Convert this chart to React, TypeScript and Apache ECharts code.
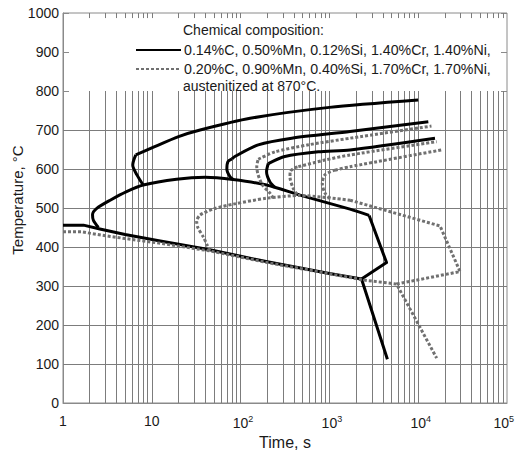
import React, { useEffect, useRef } from "react";
import * as echarts from "echarts";

const FONT = '"Liberation Sans", Arial, Helvetica, sans-serif';
const TEXT = "#1a1a1a";
const FRAME = "#8a8a8a";
const GRID = "#7c7c7c";

const STEEL_A = "0.14%C, 0.50%Mn, 0.12%Si, 1.40%Cr, 1.40%Ni,";
const STEEL_B = "0.20%C, 0.90%Mn, 0.40%Si, 1.70%Cr, 1.70%Ni,";

// [time, s ; temperature, °C]
// Steel A (solid)
const aMartensite = [[1, 456], [1.7, 456], [2.6, 446], [5, 432], [12, 416], [45, 393], [200, 362], [1000, 332], [2300, 318], [4500, 112]];
const aBainite = [[2.5, 450], [2.2, 468], [2.15, 483], [2.4, 499], [3.4, 520], [5.2, 542], [8, 559], [19, 574], [40, 579], [82, 573], [196, 559], [466, 533], [1706, 497], [2800, 481], [4400, 360], [2300, 318]];
const aFerrite1 = [[8, 559], [6.8, 585], [6.1, 610], [6.6, 636], [10, 654], [20, 683], [35, 700], [128, 730], [1000, 758], [10000, 777]];
const aFerrite2 = [[83, 573], [76, 580], [70, 600], [72, 619], [80, 626], [86, 632], [158, 662], [377, 679], [1706, 696], [13000, 721]];
const aFerrite3 = [[244, 553], [214, 567], [196, 593], [205, 614], [315, 632], [750, 644], [1706, 649], [15460, 679]];

// Steel B (dotted)
const bMartensite = [[1, 439], [1.6, 439], [3.4, 427], [12, 410], [45, 390], [200, 360], [1706, 322], [2300, 316], [5700, 305], [16150, 115]];
const bBainite = [[45, 390], [42, 405], [38, 426], [33, 450], [32, 466], [35, 482], [50, 498], [83, 510], [196, 525], [466, 532], [1706, 520], [17600, 454], [29600, 337], [5700, 305]];
const bFerrite1 = [[233, 525], [214, 538], [172, 563], [152, 606], [158, 625], [244, 644], [580, 662], [1706, 679], [14100, 710]];
const bFerrite2 = [[430, 535], [392, 550], [360, 580], [362, 593], [400, 602], [447, 606], [892, 623], [1706, 636], [16150, 670]];
const bFerrite3 = [[1016, 525], [892, 538], [832, 563], [892, 585], [1156, 597], [1706, 606], [18400, 649]];

const decadeStarts = [1, 10, 100, 1000, 10000];
const mantissas = [1, 2, 3, 4, 5, 6, 7, 8, 9];
const tempLines = [100, 200, 300, 400, 500, 600, 700];
const gridTop = 800;
const tMin = 1;
const tMax = 100000;
const tempMax = 1000;
const topTickLen = 13;

const PLOT = { left: 63, top: 13, right: 8, bottom: 48 };
const W = 515;
const H = 451;
const X_LABEL_MARGIN = 11;

const SUP_RICH = {
  p: { width: 5 },
  s: { fontSize: 9, padding: [0, 0, 9, 0], color: TEXT, fontFamily: FONT },
};

export default function App() {
  const ref = useRef<HTMLDivElement>(null);

  useEffect(() => {
    if (!ref.current) return;
    const chart = echarts.init(ref.current, null, { renderer: "svg" });

    const logValues: number[] = [];
    decadeStarts.forEach((d) => mantissas.forEach((m) => {
      const v = m * d;
      if (v > tMin && v < tMax) logValues.push(v);
    }));

    const gridData: any[] = [];
    logValues.forEach((v) => {
      gridData.push({ coords: [[v, 0], [v, gridTop]] });
      gridData.push({ coords: [[v, tempMax], [v, tempMax - topTickLen]] });
    });
    tempLines.forEach((t) => gridData.push({ coords: [[tMin, t], [tMax, t]] }));

    const solid = { color: "#000", width: 3, cap: "butt", join: "round" };
    const dotted = { color: "#707070", width: 3, type: [3, 2], cap: "butt", join: "miter" };

    // A curve is drawn as consecutive pieces split at its sharp corners;
    // each piece gets its own smoothing.
    const curve = (name: string, data: number[][], lineStyle: any, z: number, cuts: number[], smooth: number[]) => {
      const bounds = [0, ...cuts, data.length - 1];
      const out: any[] = [];
      for (let i = 0; i < bounds.length - 1; i++) {
        out.push({
          type: "line",
          name,
          data: data.slice(bounds[i], bounds[i + 1] + 1),
          symbol: "none",
          showSymbol: false,
          smooth: smooth[i] ?? 0,
          lineStyle,
          itemStyle: { color: lineStyle.color, opacity: 0 },
          z,
          silent: true,
        });
      }
      return out;
    };

    const exponent = (v: number) => Math.round(Math.log10(v));
    const sup = (v: number) => {
      const e = exponent(v);
      if (e === 0) return "1";
      if (e === 1) return "10";
      return "{p|}10{s|" + e + "}";
    };

    chart.setOption({
      animation: false,
      backgroundColor: "#fff",
      textStyle: { fontFamily: FONT },
      grid: {
        ...PLOT,
        containLabel: false,
        outerBoundsMode: "none",
        show: true, borderColor: FRAME, borderWidth: 1, backgroundColor: "transparent",
      },
      legend: {
        data: [STEEL_A, STEEL_B],
        orient: "vertical",
        left: 135,
        top: 43,
        padding: 0,
        itemWidth: 45,
        itemHeight: 14,
        itemGap: 5,
        selectedMode: false,
        itemStyle: { opacity: 0, borderWidth: 0 },
        textStyle: { fontSize: 14.2, color: TEXT, fontFamily: FONT, padding: [0, 0, 0, -2] },
      },
      xAxis: {
        type: "log",
        logBase: 10,
        min: tMin,
        max: tMax,
        name: "Time, s",
        nameLocation: "middle",
        nameGap: 30,
        nameTextStyle: { fontSize: 16, color: TEXT, fontFamily: FONT },
        axisLine: { show: true, lineStyle: { color: FRAME } },
        axisTick: { show: false },
        splitLine: { show: false },
        axisLabel: {
          margin: X_LABEL_MARGIN,
          showMaxLabel: false,
          fontSize: 14,
          color: TEXT,
          fontFamily: FONT,
          formatter: (v: number) => (exponent(v) >= exponent(tMax) ? "" : sup(v)),
          rich: SUP_RICH,
        },
      },
      yAxis: [
        {
          type: "value",
          min: 0,
          max: tempMax,
          interval: 100,
          axisLine: { show: true, lineStyle: { color: FRAME } },
          axisTick: { show: true, inside: true, length: 6, lineStyle: { color: FRAME } },
          splitLine: { show: false },
          axisLabel: { margin: 4, fontSize: 14, color: TEXT, fontFamily: FONT, formatter: (v: number) => String(v) },
        },
        {
          type: "value",
          position: "right",
          min: 0,
          max: tempMax,
          interval: 100,
          axisLine: { show: false },
          axisTick: { show: true, inside: true, length: 6, lineStyle: { color: FRAME } },
          splitLine: { show: false },
          axisLabel: { show: false },
        },
      ],
      graphic: [
        {
          type: "text",
          x: 183, y: 30,
          style: { text: "Chemical composition:", fontSize: 14, fontFamily: FONT, fill: TEXT, verticalAlign: "middle" },
        },
        {
          type: "text",
          x: 183, y: 86,
          style: { text: "austenitized at 870°C.", fontSize: 14, fontFamily: FONT, fill: TEXT, verticalAlign: "middle" },
        },
        {
          type: "text",
          x: 17, y: 200,
          rotation: Math.PI / 2,
          style: { text: "Temperature, °C", fontSize: 15, fontFamily: FONT, fill: TEXT, align: "center", verticalAlign: "middle" },
        },
        {
          // last decade label, pulled in so it stays inside the page
          type: "text",
          x: W - 1,
          y: H - PLOT.bottom + X_LABEL_MARGIN,
          style: {
            text: "10{s|" + exponent(tMax) + "}",
            rich: SUP_RICH,
            fontSize: 14, fontFamily: FONT, fill: TEXT,
            align: "right", verticalAlign: "top",
          },
        },
      ],
      series: [
        {
          type: "lines",
          coordinateSystem: "cartesian2d",
          data: gridData,
          lineStyle: { color: GRID, width: 1, opacity: 1 },
          silent: true,
          z: 1,
        },
        ...curve(STEEL_A, aMartensite, solid, 3, [], [0]),
        ...curve(STEEL_A, aBainite, solid, 3, [13], [0.25, 0]),
        ...curve(STEEL_A, aFerrite1, solid, 3, [3], [0.3, 0.25]),
        ...curve(STEEL_A, aFerrite2, solid, 3, [4], [0.3, 0.25]),
        ...curve(STEEL_A, aFerrite3, solid, 3, [3], [0.3, 0.25]),
        ...curve(STEEL_B, bMartensite, dotted, 4, [], [0]),
        ...curve(STEEL_B, bBainite, dotted, 4, [10], [0.25, 0]),
        ...curve(STEEL_B, bFerrite1, dotted, 4, [4], [0.3, 0.25]),
        ...curve(STEEL_B, bFerrite2, dotted, 4, [5], [0.3, 0.25]),
        ...curve(STEEL_B, bFerrite3, dotted, 4, [4], [0.3, 0.25]),
      ],
    });

    return () => chart.dispose();
  }, []);

  return <div ref={ref} style={{ position: "fixed", left: 0, top: 0, width: W, height: H, background: "#fff" }} />;
}
